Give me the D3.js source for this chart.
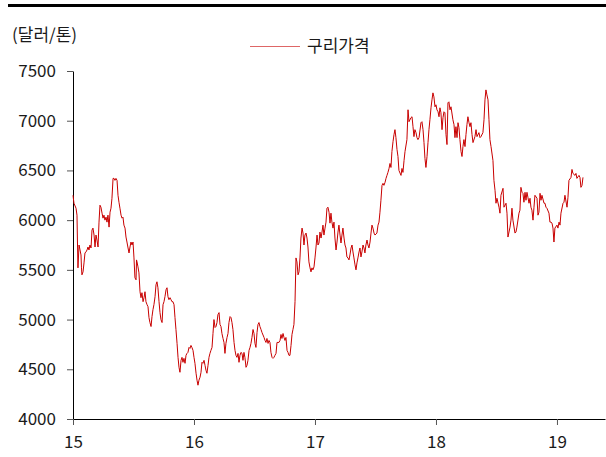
<!DOCTYPE html>
<html>
<head>
<meta charset="utf-8">
<script src="https://cdn.jsdelivr.net/npm/d3@7"></script>
<style>
  body { margin: 0; background: #fff; }
  text { font-family: "Noto Sans CJK KR", "Noto Sans", sans-serif; fill: #1a1a1a; }
</style>
</head>
<body>
<div id="chart"></div>
<script>
// copper price, USD per ton; year as 15.xx = 2015 and so on
const yearTicks = [15, 16, 17, 18, 19];
const priceTicks = [4000, 4500, 5000, 5500, 6000, 6500, 7000, 7500];
const unitLabel = "(달러/톤)";
const seriesName = "구리가격";

const copperPrice = [
  [15.000, 6250], [15.008, 6170], [15.025, 6120], [15.033, 6050], [15.037, 5770], [15.041, 5520],
  [15.050, 5750], [15.058, 5700], [15.066, 5650], [15.070, 5520], [15.074, 5450], [15.083, 5480],
  [15.091, 5570], [15.099, 5670], [15.107, 5680], [15.116, 5700], [15.124, 5730], [15.132, 5700],
  [15.140, 5750], [15.149, 5720], [15.157, 5900], [15.165, 5920], [15.174, 5850], [15.182, 5730],
  [15.190, 5850], [15.198, 5800], [15.207, 5730], [15.215, 5980], [15.223, 6150], [15.231, 6130],
  [15.240, 6070], [15.248, 6020], [15.256, 6050], [15.264, 6000], [15.273, 6030], [15.281, 5980],
  [15.289, 6050], [15.298, 5930], [15.306, 6080], [15.314, 6120], [15.322, 6220], [15.331, 6420],
  [15.339, 6420], [15.347, 6400], [15.355, 6420], [15.364, 6400], [15.372, 6250], [15.380, 6180],
  [15.388, 6120], [15.397, 6050], [15.405, 6020], [15.413, 6030], [15.421, 5950], [15.430, 5920],
  [15.438, 5830], [15.446, 5780], [15.455, 5720], [15.463, 5670], [15.471, 5730], [15.479, 5780],
  [15.488, 5750], [15.496, 5780], [15.504, 5620], [15.512, 5420], [15.521, 5400], [15.525, 5600],
  [15.529, 5580], [15.537, 5530], [15.545, 5470], [15.554, 5280], [15.562, 5220], [15.570, 5270],
  [15.579, 5180], [15.587, 5220], [15.595, 5280], [15.603, 5180], [15.612, 5150], [15.620, 5130],
  [15.628, 5020], [15.636, 4970], [15.645, 4930], [15.653, 5030], [15.661, 5100], [15.669, 5150],
  [15.678, 5230], [15.686, 5350], [15.694, 5380], [15.702, 5320], [15.711, 5180], [15.719, 5070],
  [15.727, 5000], [15.736, 4970], [15.744, 5150], [15.752, 5180], [15.760, 5230], [15.769, 5300],
  [15.777, 5320], [15.785, 5230], [15.793, 5200], [15.802, 5220], [15.810, 5200], [15.818, 5180],
  [15.826, 5180], [15.835, 5150], [15.843, 5020], [15.851, 4900], [15.860, 4760], [15.868, 4620],
  [15.876, 4520], [15.884, 4470], [15.893, 4590], [15.901, 4620], [15.909, 4570], [15.917, 4610],
  [15.926, 4560], [15.934, 4640], [15.942, 4660], [15.950, 4670], [15.959, 4720], [15.967, 4710],
  [15.975, 4740], [15.983, 4720], [15.992, 4690], [16.000, 4620], [16.008, 4560], [16.017, 4460],
  [16.025, 4390], [16.033, 4340], [16.041, 4390], [16.050, 4420], [16.058, 4470], [16.066, 4570],
  [16.074, 4560], [16.083, 4590], [16.091, 4540], [16.099, 4490], [16.107, 4460], [16.116, 4540],
  [16.124, 4620], [16.132, 4660], [16.140, 4690], [16.149, 4720], [16.157, 4860], [16.165, 5000],
  [16.174, 4920], [16.182, 4930], [16.190, 4970], [16.198, 5050], [16.207, 5070], [16.215, 4950],
  [16.223, 4930], [16.231, 4860], [16.240, 4810], [16.248, 4770], [16.256, 4660], [16.264, 4760],
  [16.273, 4820], [16.281, 4860], [16.289, 4970], [16.298, 5030], [16.306, 5020], [16.314, 4970],
  [16.322, 4900], [16.331, 4770], [16.339, 4690], [16.347, 4640], [16.355, 4620], [16.364, 4660],
  [16.372, 4570], [16.380, 4640], [16.388, 4670], [16.397, 4660], [16.405, 4590], [16.413, 4670],
  [16.421, 4620], [16.430, 4520], [16.438, 4540], [16.446, 4590], [16.455, 4690], [16.463, 4720],
  [16.471, 4760], [16.479, 4820], [16.488, 4900], [16.496, 4860], [16.504, 4760], [16.512, 4720],
  [16.521, 4870], [16.529, 4950], [16.537, 4970], [16.545, 4930], [16.554, 4900], [16.562, 4870],
  [16.579, 4820], [16.587, 4790], [16.595, 4770], [16.603, 4810], [16.612, 4760], [16.620, 4790],
  [16.628, 4770], [16.636, 4670], [16.645, 4620], [16.653, 4610], [16.661, 4620], [16.669, 4640],
  [16.678, 4660], [16.686, 4770], [16.694, 4770], [16.702, 4770], [16.711, 4790], [16.719, 4850],
  [16.727, 4810], [16.736, 4860], [16.744, 4820], [16.752, 4790], [16.760, 4820], [16.769, 4690],
  [16.777, 4670], [16.785, 4640], [16.793, 4640], [16.802, 4740], [16.810, 4850], [16.818, 4900],
  [16.826, 4950], [16.835, 5180], [16.843, 5620], [16.851, 5580], [16.860, 5450], [16.868, 5480],
  [16.876, 5620], [16.884, 5820], [16.893, 5920], [16.901, 5870], [16.909, 5750], [16.917, 5850],
  [16.926, 5870], [16.934, 5820], [16.942, 5730], [16.950, 5580], [16.959, 5520], [16.967, 5480],
  [16.975, 5520], [16.983, 5500], [16.992, 5530], [17.000, 5620], [17.008, 5720], [17.017, 5850],
  [17.025, 5750], [17.033, 5770], [17.041, 5880], [17.050, 5820], [17.058, 5880], [17.066, 5950],
  [17.074, 5850], [17.083, 5920], [17.091, 5980], [17.099, 6120], [17.107, 6130], [17.116, 6080],
  [17.124, 5970], [17.132, 6070], [17.140, 5980], [17.149, 5920], [17.157, 5980], [17.165, 5820],
  [17.174, 5700], [17.182, 5780], [17.190, 5880], [17.198, 5950], [17.207, 5850], [17.215, 5770],
  [17.223, 5850], [17.231, 5920], [17.240, 5820], [17.248, 5750], [17.256, 5720], [17.264, 5630],
  [17.273, 5620], [17.281, 5600], [17.289, 5650], [17.298, 5720], [17.306, 5750], [17.314, 5680],
  [17.322, 5620], [17.331, 5550], [17.339, 5500], [17.347, 5570], [17.355, 5620], [17.364, 5680],
  [17.372, 5720], [17.380, 5630], [17.388, 5680], [17.397, 5750], [17.405, 5720], [17.413, 5670],
  [17.421, 5750], [17.430, 5800], [17.438, 5750], [17.446, 5720], [17.455, 5780], [17.463, 5870],
  [17.471, 5950], [17.479, 5920], [17.488, 5870], [17.496, 5850], [17.512, 5870], [17.521, 5950],
  [17.529, 5980], [17.537, 6080], [17.545, 6200], [17.554, 6350], [17.562, 6370], [17.570, 6350],
  [17.579, 6380], [17.587, 6420], [17.595, 6450], [17.603, 6480], [17.612, 6520], [17.620, 6570],
  [17.628, 6530], [17.636, 6690], [17.645, 6790], [17.653, 6860], [17.661, 6910], [17.669, 6830],
  [17.678, 6710], [17.686, 6640], [17.694, 6500], [17.711, 6450], [17.719, 6520], [17.727, 6480],
  [17.736, 6600], [17.744, 6690], [17.760, 6810], [17.769, 7110], [17.777, 6990], [17.793, 7030],
  [17.802, 7040], [17.810, 6940], [17.818, 6840], [17.826, 6910], [17.835, 6880], [17.843, 6830],
  [17.851, 6810], [17.860, 6830], [17.876, 6980], [17.884, 6990], [17.893, 6910], [17.901, 6780],
  [17.909, 6620], [17.917, 6530], [17.926, 6640], [17.934, 6780], [17.942, 6910], [17.950, 7010],
  [17.959, 7130], [17.967, 7210], [17.975, 7280], [17.983, 7240], [17.992, 7140], [18.000, 7160],
  [18.008, 7110], [18.017, 7090], [18.025, 7040], [18.033, 7130], [18.041, 7080], [18.050, 6910],
  [18.058, 7030], [18.066, 7090], [18.074, 7080], [18.083, 6860], [18.091, 6760], [18.099, 7180],
  [18.107, 7190], [18.116, 7110], [18.124, 7140], [18.140, 7010], [18.149, 6960], [18.157, 6830],
  [18.165, 6940], [18.174, 6830], [18.182, 6980], [18.190, 6930], [18.198, 6810], [18.207, 6690],
  [18.215, 6640], [18.223, 6740], [18.231, 6810], [18.240, 6740], [18.248, 6860], [18.256, 6960],
  [18.264, 7040], [18.273, 6980], [18.281, 6940], [18.289, 6980], [18.298, 6860], [18.306, 6780],
  [18.322, 6840], [18.331, 6910], [18.339, 6840], [18.355, 6880], [18.364, 6830], [18.372, 6840],
  [18.388, 6880], [18.397, 7010], [18.405, 7210], [18.413, 7310], [18.421, 7260], [18.430, 7210],
  [18.438, 7010], [18.446, 6810], [18.455, 6740], [18.471, 6600], [18.479, 6400], [18.488, 6300],
  [18.496, 6170], [18.504, 6220], [18.521, 6130], [18.529, 6070], [18.537, 6250], [18.554, 6320],
  [18.562, 6130], [18.579, 6170], [18.587, 6070], [18.595, 5830], [18.612, 5930], [18.620, 6000],
  [18.628, 6120], [18.636, 6000], [18.653, 5870], [18.661, 5880], [18.669, 5930], [18.686, 6070],
  [18.694, 6100], [18.702, 6330], [18.711, 6280], [18.719, 6270], [18.727, 6180], [18.736, 6280],
  [18.744, 6200], [18.752, 6280], [18.760, 6230], [18.769, 6170], [18.777, 6220], [18.785, 6130],
  [18.793, 6100], [18.802, 6000], [18.810, 6130], [18.818, 6250], [18.835, 6220], [18.843, 6050],
  [18.851, 6080], [18.860, 6270], [18.868, 6200], [18.876, 6250], [18.893, 6170], [18.901, 6170],
  [18.909, 6130], [18.917, 6120], [18.934, 6070], [18.942, 5980], [18.950, 5980], [18.959, 5970],
  [18.967, 5920], [18.975, 5780], [18.983, 5920], [19.000, 5950], [19.008, 5920], [19.017, 5980],
  [19.025, 5950], [19.033, 6070], [19.050, 6170], [19.058, 6180], [19.066, 6250], [19.083, 6130],
  [19.091, 6230], [19.099, 6400], [19.116, 6430], [19.124, 6510], [19.132, 6470], [19.149, 6450],
  [19.157, 6470], [19.165, 6420], [19.182, 6450], [19.190, 6430], [19.198, 6330], [19.207, 6350],
  [19.215, 6430]
];

const width = 606;
const height = 457;
const marginTop = 71;
const marginRight = 1;
const marginBottom = 38;
const marginLeft = 73;
const lineColor = "#c80000";

const x = d3.scaleLinear()
    .domain([15, 19.397])
    .range([marginLeft, width - marginRight]);

const y = d3.scaleLinear()
    .domain([4000, 7500])
    .range([height - marginBottom, marginTop]);

const svg = d3.select("#chart").append("svg")
    .attr("width", width)
    .attr("height", height);

// thin black rule at the very top
svg.append("rect")
    .attr("x", 8)
    .attr("y", 4)
    .attr("width", width - 8)
    .attr("height", 3)
    .attr("fill", "#000");

const yAxis = svg.append("g")
    .attr("transform", `translate(${marginLeft},0)`)
    .call(d3.axisLeft(y).tickValues(priceTicks).tickSize(6).tickSizeOuter(0).tickPadding(11).tickFormat(d3.format("d")));

const xAxis = svg.append("g")
    .attr("transform", `translate(0,${height - marginBottom})`)
    .call(d3.axisBottom(x).tickValues(yearTicks).tickSize(6).tickSizeOuter(0).tickPadding(11).tickFormat(d => d));

[yAxis, xAxis].forEach(g => {
    g.selectAll("text").style("font-size", "17px").attr("fill", "#1a1a1a");
    g.select(".domain").attr("stroke", "#000");
    g.selectAll(".tick line").attr("stroke", "#555");
});

svg.append("text")
    .attr("x", 12)
    .attr("y", 41)
    .style("font-size", "17px")
    .text(unitLabel);

const line = d3.line()
    .x(d => x(d[0]))
    .y(d => y(d[1]));

svg.append("path")
    .datum(copperPrice)
    .attr("fill", "none")
    .attr("stroke", lineColor)
    .attr("stroke-width", 1)
    .attr("stroke-linejoin", "round")
    .attr("d", line);

// legend
const legend = svg.append("g").attr("transform", "translate(250,46)");
legend.append("line")
    .attr("x1", 0).attr("x2", 50)
    .attr("y1", 0.5).attr("y2", 0.5)
    .attr("stroke", lineColor)
    .attr("stroke-opacity", 0.6)
    .attr("stroke-width", 1);
legend.append("text")
    .attr("x", 57)
    .attr("y", 6)
    .style("font-size", "17px")
    .text(seriesName);
</script>
</body>
</html>
